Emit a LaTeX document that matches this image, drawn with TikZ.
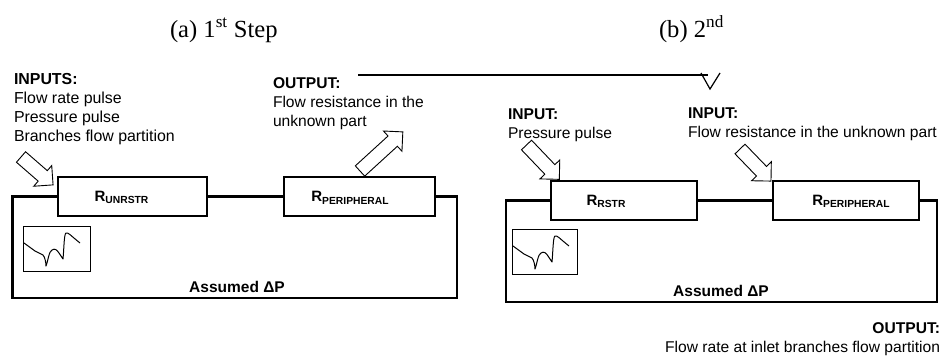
\documentclass[tikz,border=0pt]{standalone}
\usepackage{fontspec}
\setmainfont{Liberation Sans}
\newfontfamily\titlefont{Liberation Serif}
\usetikzlibrary{shapes.arrows}
\newcommand{\resname}[1]{{\fontsize{15}{15}\selectfont\bfseries R\raisebox{-2.6pt}{\fontsize{10.3}{10.3}\selectfont #1}}}
\tikzset{
    x = 1pt,
    y = -1pt,
    every node/.style = {inner sep=0pt, outer sep=0pt},
    resbox/.style = {draw, line width=2.3pt, fill=white, minimum height=39pt},
    reslabel/.style = {anchor=base},
    wire/.style = {line width=2.3pt, line join=miter},
    note/.style = {font=\fontsize{15.6}{19}\selectfont, align=left, anchor=north west},
    titletext/.style = {font=\titlefont\fontsize{24.6}{28}\selectfont, anchor=base west},
    assumed/.style = {font=\fontsize{15.5}{16}\selectfont\bfseries, anchor=base},
    blockarrow/.style = {draw, line width=0.9pt, fill=white, single arrow, inner xsep=0pt, inner ysep=6.5pt, minimum width=26.5pt, single arrow head extend=6.75pt, anchor=tail},
    insetbox/.style = {draw, line width=1pt, anchor=north west},
    pulsetrace/.pic = {
        \draw[line width=1pt, line join=round]
            (1,-28) -- (12,-20) -- (20,-16) .. controls (22,-14) and (23,-8) .. (23,-5)
            .. controls (25,-10) and (26,-20) .. (29,-21) .. controls (32,-23) and (34,-21) .. (36,-18)
            -- (40,-12) .. controls (41,-22) and (41,-37) .. (43,-38) .. controls (45,-39) and (47,-36) .. (57,-28);
    }
}
\begin{document}
\begin{tikzpicture}
        \useasboundingbox (0,0) rectangle (944,356);
        \node[titletext] (titlefirst) at (170,37) {(a) 1\textsuperscript{st} Step};
        \node[titletext] (titlesecond) at (659,37) {(b) 2\textsuperscript{nd}};

        \coordinate (loopfirstnw) at (12.5,196.5);
        \coordinate (loopfirstsw) at (12.5,298);
        \coordinate (loopfirstse) at (457,298);
        \coordinate (loopfirstne) at (457,196.5);
        \coordinate (loopsecondnw) at (506,200.5);
        \coordinate (loopsecondsw) at (506,302);
        \coordinate (loopsecondse) at (937,302);
        \coordinate (loopsecondne) at (937,200.5);

        \node[resbox, minimum width=149pt] (boxunrstr) at (132.5,196.5) {};
        \node[resbox, minimum width=151pt] (boxperiphfirst) at (359.5,196.5) {};
        \node[resbox, minimum width=146pt] (boxrstr) at (624,200.5) {};
        \node[resbox, minimum width=146pt] (boxperiphsecond) at (846,200.5) {};
        \node[reslabel] (labelunrstr) at (121.5,201) {\resname{UNRSTR}};
        \node[reslabel] (labelperiphfirst) at (350,201.5) {\resname{PERIPHERAL}};
        \node[reslabel] (labelrstr) at (606,205) {\resname{RSTR}};
        \node[reslabel] (labelperiphsecond) at (851,205) {\resname{PERIPHERAL}};

        \draw[wire] (boxunrstr.west) -- (loopfirstnw) -- (loopfirstsw) -- (loopfirstse) -- (loopfirstne) -- (boxperiphfirst.east);
        \draw[wire] (boxunrstr.east) -- (boxperiphfirst.west);
        \draw[wire] (boxrstr.west) -- (loopsecondnw) -- (loopsecondsw) -- (loopsecondse) -- (loopsecondne) -- (boxperiphsecond.east);
        \draw[wire] (boxrstr.east) -- (boxperiphsecond.west);

        \node[insetbox, minimum width=67pt, minimum height=45pt] (insetfirst) at (23,226) {};
        \node[insetbox, minimum width=65pt, minimum height=45pt] (insetsecond) at (512,229) {};
        \pic at (insetfirst.south west) {pulsetrace};
        \pic at (insetsecond.south west) {pulsetrace};

        \node[assumed] (assumedfirst) at (237,292.5) {Assumed ΔP};
        \node[assumed] (assumedsecond) at (721,296) {Assumed ΔP};

        \node[note, font=\fontsize{15.9}{19}\selectfont] (notefirstin) at (14,73) {\textbf{INPUTS:}\\Flow rate pulse\\Pressure pulse\\Branches flow partition};
        \node[note] (notefirstout) at (273,78) {\textbf{OUTPUT:}\\Flow resistance in the\\unknown part};
        \node[note] (notesecondin) at (508,109) {\textbf{INPUT:}\\Pressure pulse};
        \node[note] (notesecondres) at (688,108) {\textbf{INPUT:}\\Flow resistance in the unknown part};
        \node[note, align=right, anchor=north east] (notesecondout) at (940,323) {\textbf{OUTPUT:}\\Flow rate at inlet branches flow partition};

        \node[blockarrow, rotate=-41, minimum height=42.5pt] (arrowfirstin) at (21,157) {};
        \node[blockarrow, rotate=42.4, minimum height=58pt] (arrowfirstout) at (360,171) {};
        \node[blockarrow, rotate=-46.3, minimum height=47.5pt] (arrowsecondin) at (526.5,145) {};
        \node[blockarrow, rotate=-46, minimum height=44.6pt] (arrowsecondres) at (740,149) {};

        \coordinate (stepstart) at (358,75);
        \coordinate (stepend) at (708,75);
        \coordinate (vleft) at (701,73);
        \coordinate (vtip) at (710,89);
        \coordinate (vright) at (720,73);
        \draw[line width=1.2pt] (stepstart) -- (stepend);
        \draw[line width=1.2pt] (vleft) -- (vtip) -- (vright);
    \end{tikzpicture}
\end{document}
